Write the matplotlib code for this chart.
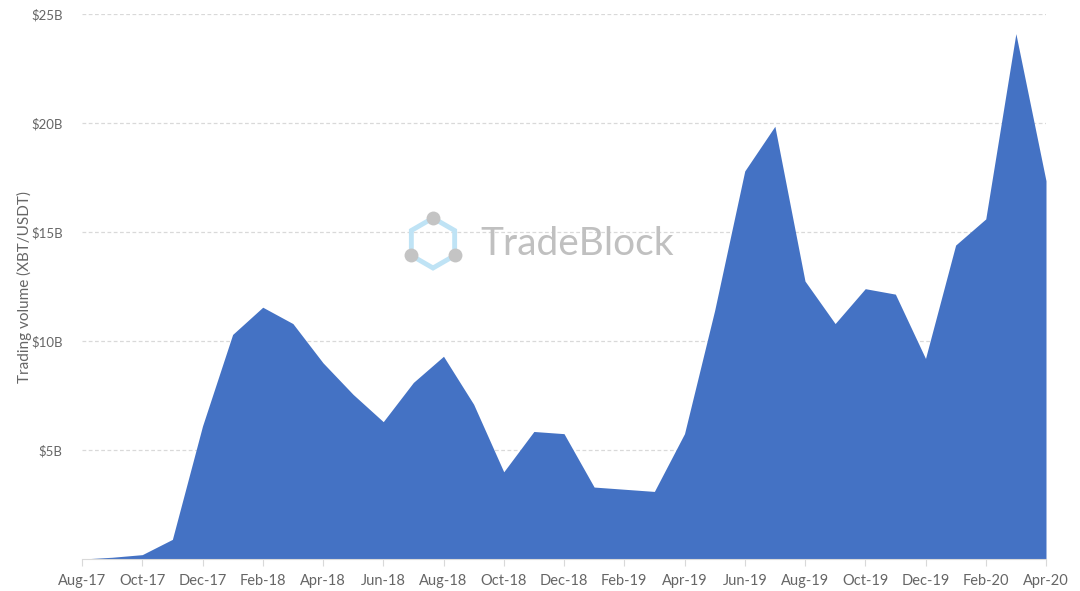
import matplotlib
matplotlib.use("Agg")
import matplotlib.pyplot as plt
from matplotlib.patches import Polygon
from matplotlib.lines import Line2D
import numpy as np

months = ["Aug-17", "Sep-17", "Oct-17", "Nov-17", "Dec-17", "Jan-18", "Feb-18", "Mar-18",
          "Apr-18", "May-18", "Jun-18", "Jul-18", "Aug-18", "Sep-18", "Oct-18", "Nov-18",
          "Dec-18", "Jan-19", "Feb-19", "Mar-19", "Apr-19", "May-19", "Jun-19", "Jul-19",
          "Aug-19", "Sep-19", "Oct-19", "Nov-19", "Dec-19", "Jan-20", "Feb-20", "Mar-20",
          "Apr-20"]
volume_b = [0.0, 0.08, 0.2, 0.9, 6.1, 10.3, 11.55, 10.8,
            9.0, 7.55, 6.3, 8.1, 9.3, 7.1, 4.0, 5.85,
            5.75, 3.3, 3.2, 3.1, 5.75, 11.4, 17.8, 19.85,
            12.75, 10.8, 12.4, 12.15, 9.2, 14.4, 15.6, 24.1,
            17.35]
y_ticks = [5, 10, 15, 20, 25]
y_tick_labels = ["$5B", "$10B", "$15B", "$20B", "$25B"]

plt.rcParams['font.family'] = ['Lato', 'DejaVu Sans']

fig = plt.figure(figsize=(10.8, 5.91), dpi=100)
ax = fig.add_axes([82/1080, 1 - 559/591, (1046-82)/1080, (559-14)/591])

x = np.arange(len(months))
ax.fill_between(x, 0, volume_b, color="#4472c4", linewidth=0, zorder=2)
ax.set_xlim(0, len(months) - 1)
ax.set_ylim(0, 25)

ax.set_yticks(y_ticks)
ax.set_yticklabels(y_tick_labels)
ax.set_xticks(x[::2])
ax.set_xticklabels(months[::2])

ax.grid(axis='y', color="#d9d9d9", linestyle=(0, (3, 2)), linewidth=0.9, zorder=0)
for s in ["top", "right", "left"]:
    ax.spines[s].set_visible(False)
ax.spines["bottom"].set_color("#d9d9d9")
ax.spines["bottom"].set_zorder(3)
ax.tick_params(axis='y', length=0, pad=14, labelsize=9.5, labelcolor="#666666")
ax.tick_params(axis='x', length=5, color="#d9d9d9", pad=6, labelsize=10.5, labelcolor="#666666")

fig.text(24/1080, 1 - 287/591, "Trading volume (XBT/USDT)", rotation=90, ha='center', va='center',
         fontsize=11, color="#666666")

# watermark logo
cx, cy, r = 433, 243, 25
hex_pts = []
for k in range(6):
    ang = np.deg2rad(90 + 60 * k)
    hex_pts.append(((cx + r * np.cos(ang)) / 1080, 1 - (cy - r * np.sin(ang)) / 591))
poly = Polygon(hex_pts, closed=True, fill=False, edgecolor="#bfe3f5", linewidth=3.5,
               transform=fig.transFigure, zorder=5)
fig.add_artist(poly)
dots = [hex_pts[0], hex_pts[2], hex_pts[4]]
fig.add_artist(Line2D([p[0] for p in dots], [p[1] for p in dots], linestyle='none',
                      marker='o', markersize=10, markerfacecolor="#c4c4c4",
                      markeredgecolor='none', transform=fig.transFigure, zorder=6))
fig.text(480/1080, 1 - 244/591, "TradeBlock", ha='left', va='center', fontsize=28,
         color="#c0c0c0", zorder=6)

fig.savefig("out.png", dpi=100)
